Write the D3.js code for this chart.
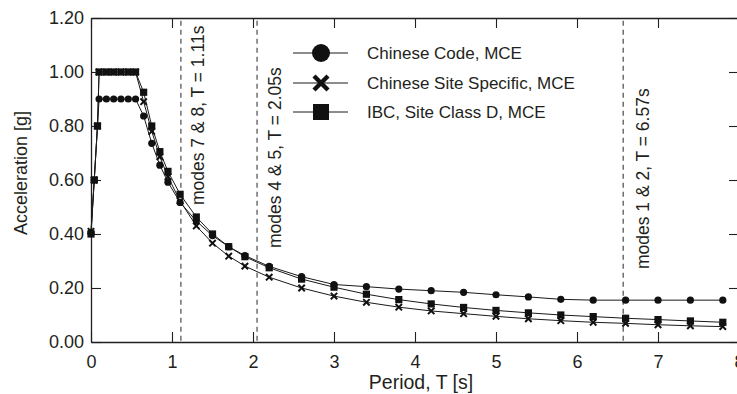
<!DOCTYPE html>
<html>
<head>
<meta charset="utf-8">
<script src="https://cdn.jsdelivr.net/npm/d3@7"></script>
<style>
  body { margin: 0; background: #fff; }
  svg { display: block; font-family: "Liberation Sans", Arial, sans-serif; }
</style>
</head>
<body>
<div id="chart"></div>
<script>
// periods (s) where the spectra were sampled
const periods = [0, 0.04, 0.08, 0.1, 0.19, 0.28, 0.37, 0.46, 0.55, 0.65, 0.75, 0.85, 0.95,
    1.1, 1.3, 1.5, 1.7, 1.9, 2.2, 2.6, 3.0, 3.4, 3.8, 4.2, 4.6, 5.0, 5.4, 5.8, 6.2, 6.6, 7.0, 7.4, 7.8];

const chineseCode = [0.405, 0.60, 0.80, 0.90, 0.90, 0.90, 0.90, 0.90, 0.90, 0.837, 0.736, 0.655, 0.592,
    0.517, 0.448, 0.394, 0.353, 0.320, 0.280, 0.242, 0.213, 0.205, 0.196, 0.190, 0.184, 0.175, 0.167, 0.158,
    0.155, 0.155, 0.155, 0.155, 0.155];

const siteSpecific = [0.41, 0.60, 0.80, 1.0, 1.0, 1.0, 1.0, 1.0, 1.0, 0.89, 0.78, 0.686, 0.612,
    0.522, 0.43, 0.366, 0.318, 0.281, 0.240, 0.200, 0.170, 0.147, 0.129, 0.115, 0.105, 0.095, 0.086, 0.079,
    0.073, 0.069, 0.064, 0.060, 0.057];

const ibc = [0.40, 0.60, 0.80, 1.0, 1.0, 1.0, 1.0, 1.0, 1.0, 0.925, 0.80, 0.705, 0.632,
    0.547, 0.463, 0.40, 0.353, 0.316, 0.275, 0.233, 0.203, 0.177, 0.157, 0.141, 0.128, 0.117, 0.108, 0.100,
    0.094, 0.088, 0.083, 0.078, 0.073];

const seriesNames = ["Chinese Code, MCE", "Chinese Site Specific, MCE", "IBC, Site Class D, MCE"];

const xTicks = [0, 1, 2, 3, 4, 5, 6, 7, 8];
const yTicks = [0, 0.2, 0.4, 0.6, 0.8, 1.0, 1.2];

// modal periods marked with dashed lines
const modePeriods = [1.11, 2.05, 6.57];
const modeLabels = ["modes 7 & 8, T = 1.11s", "modes 4 & 5, T = 2.05s", "modes 1 & 2, T = 6.57s"];

const W = 737, H = 394;
const ink = "#231f20";

const svg = d3.select("#chart")
    .append("svg")
    .attr("width", W)
    .attr("height", H);

const x = d3.scaleLinear().domain([0, 8]).range([91, 739]);
const y = d3.scaleLinear().domain([0, 1.2]).range([342, 18]);

// axes, ticks pointing inward on all four sides
const styleAxis = g => {
    g.select(".domain").attr("stroke", ink).attr("stroke-width", 1.3);
    g.selectAll(".tick line").attr("stroke", ink).attr("stroke-width", 1.1);
    g.selectAll("text").attr("fill", ink).attr("font-size", "18px")
        .attr("font-family", "'Liberation Sans', Arial, sans-serif");
};

svg.append("g")
    .attr("transform", `translate(0,${y(0)})`)
    .call(d3.axisBottom(x).tickValues(xTicks).tickFormat(d3.format("d")).tickSize(-10).tickPadding(13).tickSizeOuter(0))
    .call(styleAxis);

svg.append("g")
    .attr("transform", `translate(0,${y(1.2)})`)
    .call(d3.axisTop(x).tickValues(xTicks).tickFormat("").tickSize(-10).tickSizeOuter(0))
    .call(styleAxis);

svg.append("g")
    .attr("transform", `translate(${x(0)},0)`)
    .call(d3.axisLeft(y).tickValues(yTicks).tickFormat(d3.format(".2f")).tickSize(-10).tickPadding(7).tickSizeOuter(0))
    .call(styleAxis);

svg.append("g")
    .attr("transform", `translate(${x(8)},0)`)
    .call(d3.axisRight(y).tickValues(yTicks).tickFormat("").tickSize(-10).tickSizeOuter(0))
    .call(styleAxis);

// axis titles
svg.append("text")
    .attr("x", 421)
    .attr("y", 389)
    .attr("text-anchor", "middle")
    .attr("fill", ink)
    .attr("font-size", "19.5px")
    .text("Period, T [s]");

svg.append("text")
    .attr("transform", "translate(27,173) rotate(-90)")
    .attr("text-anchor", "middle")
    .attr("fill", ink)
    .attr("font-size", "18px")
    .text("Acceleration [g]");

// dashed mode lines + labels
const labelBottom = [0.507, 0.348, 0.27];
const labelOffset = [23, 24, 26];

svg.append("g")
    .selectAll("line")
    .data(modePeriods)
    .join("line")
    .attr("x1", d => x(d))
    .attr("x2", d => x(d))
    .attr("y1", y(1.19))
    .attr("y2", y(0))
    .attr("stroke", "#3a3a3a")
    .attr("stroke-width", 1.1)
    .attr("stroke-dasharray", "5,4");

svg.append("g")
    .selectAll("text")
    .data(modePeriods)
    .join("text")
    .attr("transform", (d, i) => `translate(${x(d) + labelOffset[i]},${y(labelBottom[i])}) rotate(-90)`)
    .attr("fill", ink)
    .attr("font-size", "17.5px")
    .text((d, i) => modeLabels[i]);

// series
const allSeries = [chineseCode, siteSpecific, ibc];
const markers = ["circle", "cross", "square"];

const line = d3.line()
    .x((d, i) => x(periods[i]))
    .y(d => y(d));

allSeries.forEach(vals => {
    svg.append("path")
        .datum(vals)
        .attr("fill", "none")
        .attr("stroke", "#1a1a1a")
        .attr("stroke-width", 1)
        .attr("d", line);
});

function drawMarker(g, type, size) {
    if (type === "circle") {
        g.append("circle").attr("r", size / 2).attr("fill", "#111");
    } else if (type === "square") {
        g.append("rect")
            .attr("x", -size / 2).attr("y", -size / 2)
            .attr("width", size).attr("height", size)
            .attr("fill", "#111");
    } else {
        const h = size / 2;
        g.append("path")
            .attr("d", `M${-h},${-h}L${h},${h}M${-h},${h}L${h},${-h}`)
            .attr("stroke", "#111")
            .attr("stroke-width", size / 3.2)
            .attr("fill", "none");
    }
}

// draw circles, then crosses, then squares on top
[0, 1, 2].forEach(s => {
    const vals = allSeries[s];
    vals.forEach((v, i) => {
        const g = svg.append("g").attr("transform", `translate(${x(periods[i])},${y(v)})`);
        drawMarker(g, markers[s], markers[s] === "cross" ? 6.4 : 7.2);
    });
});

// legend
const legendY = [53, 83, 112];
const legend = svg.append("g");
seriesNames.forEach((name, i) => {
    legend.append("line")
        .attr("x1", 293).attr("x2", 348)
        .attr("y1", legendY[i]).attr("y2", legendY[i])
        .attr("stroke", "#1a1a1a").attr("stroke-width", 1);
    const g = legend.append("g").attr("transform", `translate(321,${legendY[i]})`);
    drawMarker(g, markers[i], markers[i] === "circle" ? 18 : (markers[i] === "cross" ? 14 : 16));
    legend.append("text")
        .attr("x", 367)
        .attr("y", legendY[i])
        .attr("dy", "0.36em")
        .attr("fill", ink)
        .attr("font-size", "17px")
        .text(name);
});
</script>
</body>
</html>
